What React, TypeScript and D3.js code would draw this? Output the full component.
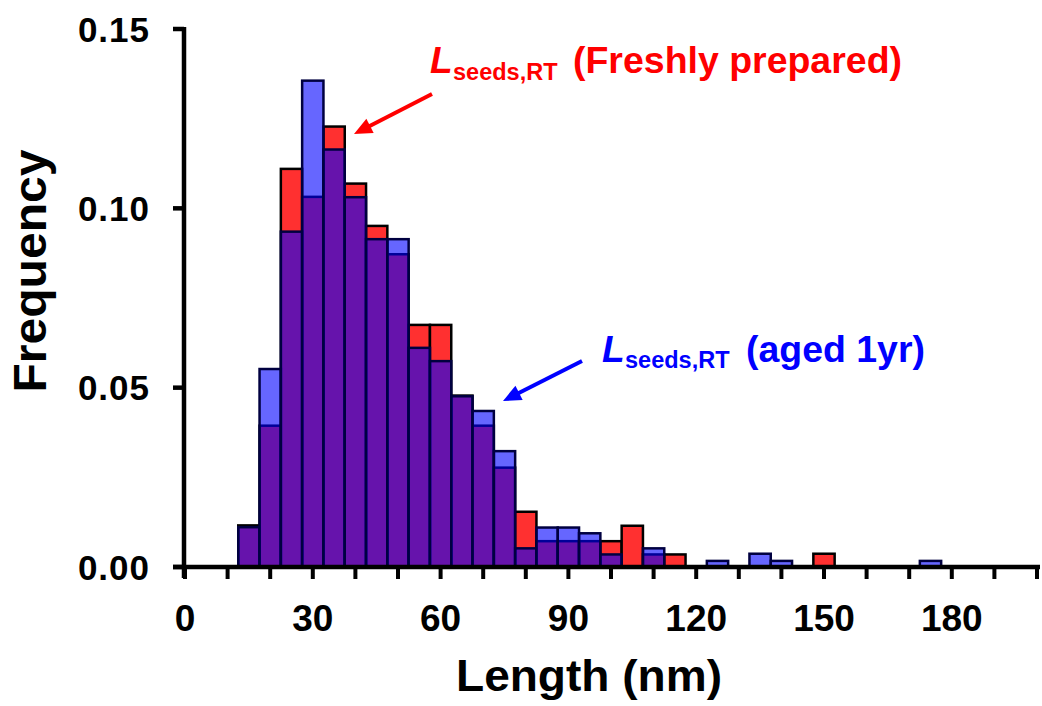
import React from "react";
import * as d3 from "d3";

const binCenters = [15, 20, 25, 30, 35, 40, 45, 50, 55, 60, 65, 70, 75, 80, 85, 90, 95, 100, 105, 110, 115, 120, 125, 130, 135, 140, 145, 150, 155, 160, 165, 170, 175];
const freshFreq = [0.0116, 0.0394, 0.111, 0.1032, 0.1228, 0.1069, 0.0951, 0.0872, 0.0675, 0.0675, 0.0478, 0.0394, 0.0277, 0.0154, 0.0072, 0.0072, 0.0072, 0.0072, 0.0115, 0.0035, 0.0035, 0, 0, 0, 0, 0, 0, 0.0037, 0, 0, 0, 0, 0];
const agedFreq = [0.0111, 0.0552, 0.0935, 0.1356, 0.1164, 0.1031, 0.0914, 0.0914, 0.0611, 0.0574, 0.0476, 0.0435, 0.0323, 0.0052, 0.011, 0.011, 0.0094, 0.0035, 0, 0.0052, 0, 0, 0.0017, 0, 0.0037, 0.0017, 0, 0, 0, 0, 0, 0, 0.0017];
const binWidth = 5;
const xMinorTicks = [0, 10, 20, 30, 40, 50, 60, 70, 80, 90, 100, 110, 120, 130, 140, 150, 160, 170, 180, 190, 200];
const xTickLabels = [0, 30, 60, 90, 120, 150, 180];
const yTickValues = [0, 0.05, 0.1, 0.15];

const FONT = "'Liberation Sans', Arial, Helvetica, sans-serif";

export default function App() {
  const W = 1042;
  const H = 706;
  const x = d3.scaleLinear().domain([0, 200]).range([185, 1037]);
  const y = d3.scaleLinear().domain([0, 0.15]).range([567, 29]);
  const fmtY = d3.format(".2f");

  const bars = (vals: number[]) =>
    binCenters
      .map((c, i) => ({ c, v: vals[i] }))
      .filter((d) => d.v > 0);

  const arrow = (x1: number, y1: number, x2: number, y2: number, color: string) => {
    const ang = Math.atan2(y2 - y1, x2 - x1);
    const L = 18;
    const hw = 8;
    const bx = x2 - L * Math.cos(ang);
    const by = y2 - L * Math.sin(ang);
    const px = -Math.sin(ang) * hw;
    const py = Math.cos(ang) * hw;
    const path = d3.path();
    path.moveTo(x2, y2);
    path.lineTo(bx + px, by + py);
    path.lineTo(bx - px, by - py);
    path.closePath();
    return (
      <g>
        <line x1={x1} y1={y1} x2={bx + 2 * Math.cos(ang)} y2={by + 2 * Math.sin(ang)} stroke={color} strokeWidth={4} />
        <path d={path.toString()} fill={color} />
      </g>
    );
  };

  return (
    <svg width={W} height={H} style={{ position: "absolute", left: 0, top: 0, background: "#fff" }} fontFamily={FONT}>
      <rect x={0} y={0} width={W} height={H} fill="#fff" />
      {/* red bars (freshly prepared) */}
      <g>
        {bars(freshFreq).map((d) => (
          <rect
            key={"r" + d.c}
            x={x(d.c - binWidth / 2)}
            y={y(d.v)}
            width={x(d.c + binWidth / 2) - x(d.c - binWidth / 2)}
            height={y(0) - y(d.v)}
            fill="#FF3030"
            stroke="#000"
            strokeWidth={2.5}
          />
        ))}
      </g>
      {/* blue bars (aged 1yr) */}
      <g>
        {bars(agedFreq).map((d) => (
          <rect
            key={"b" + d.c}
            x={x(d.c - binWidth / 2)}
            y={y(d.v)}
            width={x(d.c + binWidth / 2) - x(d.c - binWidth / 2)}
            height={y(0) - y(d.v)}
            fill="rgb(0,0,255)"
            fillOpacity={0.6}
            stroke="#000040"
            strokeWidth={2.5}
          />
        ))}
      </g>

      {/* Y axis */}
      <line x1={184} y1={y(0.15) - 2} x2={184} y2={y(0) + 11} stroke="#000" strokeWidth={4.5} />
      {yTickValues.map((t) => (
        <g key={"yt" + t}>
          <line x1={173} x2={184} y1={y(t)} y2={y(t)} stroke="#000" strokeWidth={4.5} />
          <text x={150} y={y(t)} dy="0.36em" textAnchor="end" fontSize={35} fontWeight="bold" letterSpacing={1}>
            {fmtY(t)}
          </text>
        </g>
      ))}

      {/* X axis */}
      <line x1={173} x2={1040} y1={567} y2={567} stroke="#000" strokeWidth={4.5} />
      {xMinorTicks.map((t) => (
        <line key={"xt" + t} x1={x(t)} x2={x(t)} y1={567} y2={579} stroke="#000" strokeWidth={4} />
      ))}
      {xTickLabels.map((t) => (
        <text key={"xl" + t} x={x(t)} y={631} textAnchor="middle" fontSize={37} fontWeight="bold">
          {t}
        </text>
      ))}

      {/* Axis titles */}
      <text x={589} y={691} textAnchor="middle" fontSize={44} fontWeight="bold" textLength={266} lengthAdjust="spacingAndGlyphs">
        Length (nm)
      </text>
      <text transform="translate(46,271) rotate(-90)" textAnchor="middle" fontSize={46} fontWeight="bold" textLength={243} lengthAdjust="spacingAndGlyphs">
        Frequency
      </text>

      {/* Red annotation */}
      <text x={430} y={73} fill="#FF0000" fontWeight="bold">
        <tspan fontSize={37} fontStyle="italic">L</tspan>
        <tspan x={453} y={80} fontSize={23.5}>seeds,RT</tspan>
      </text>
      <text x={573} y={73} fill="#FF0000" fontWeight="bold" fontSize={37} textLength={329} lengthAdjust="spacingAndGlyphs">
        (Freshly prepared)
      </text>
      {arrow(432, 94, 354, 134, "#FF0000")}

      {/* Blue annotation */}
      <text x={602} y={362} fill="#0000FF" fontWeight="bold">
        <tspan fontSize={37} fontStyle="italic">L</tspan>
        <tspan x={625} y={368} fontSize={23.5}>seeds,RT</tspan>
      </text>
      <text x={746} y={362} fill="#0000FF" fontWeight="bold" fontSize={37} textLength={179} lengthAdjust="spacingAndGlyphs">
        (aged 1yr)
      </text>
      {arrow(582, 361, 503, 401, "#0000FF")}
    </svg>
  );
}
